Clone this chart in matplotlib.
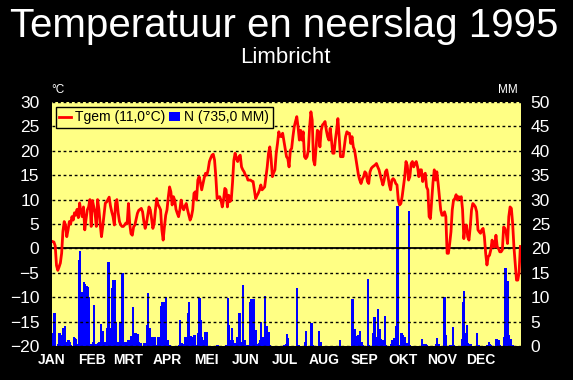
import numpy as np
import matplotlib
matplotlib.use("Agg")
import matplotlib.pyplot as plt
from matplotlib.lines import Line2D
from matplotlib.patches import Patch

plt.rcParams['font.family'] = ['Liberation Sans', 'DejaVu Sans']

# month labels and lengths (1995)
months = ["JAN", "FEB", "MRT", "APR", "MEI", "JUN", "JUL", "AUG", "SEP", "OKT", "NOV", "DEC"]
month_days = [31, 28, 31, 30, 31, 30, 31, 31, 30, 31, 30, 31]

# daily mean temperature (degC)
tgem_jan = [1.4, 1.3, 0.5, -3.5, -4.5, -3.8, -3.0, -1.0, 3.5, 5.5, 4.8, 2.4, 3.8, 5.5, 5.0, 6.5,
            5.8, 7.3, 6.8, 8.0, 6.3, 9.3, 7.5, 6.5, 8.5, 3.8, 6.0, 7.9, 8.5, 10.0, 4.5]
tgem_feb = [9.8, 8.5, 7.3, 4.5, 10.0, 8.0, 5.0, 2.4, 4.5, 7.0, 9.3, 9.5, 10.0, 10.5, 8.7, 7.5,
            6.5, 4.8, 9.3, 10.0, 7.3, 5.5, 4.8, 4.5, 4.5, 4.8, 5.2, 5.1]
tgem_mrt = [9.2, 5.0, 3.0, 2.7, 4.4, 4.8, 6.0, 7.2, 7.8, 8.0, 8.2, 7.5, 5.5, 4.1, 5.1, 6.8,
            8.5, 7.9, 6.1, 4.1, 5.1, 7.9, 10.2, 9.0, 8.5, 7.9, 3.8, 1.7, 4.4, 6.8, 7.9]
tgem_apr = [10.5, 12.6, 11.6, 8.9, 10.6, 9.9, 8.0, 7.2, 6.5, 7.9, 9.9, 8.5, 7.9, 8.7, 9.2,
            7.9, 6.8, 5.8, 6.5, 7.9, 11.3, 11.6, 9.9, 14.0, 14.7, 13.5, 12.0, 13.3, 14.5, 15.4]
tgem_mei = [15.0, 16.1, 17.8, 18.5, 19.1, 19.3, 18.1, 14.7, 10.2, 10.5, 10.6, 9.9, 8.5, 9.9,
            12.3, 12.0, 8.5, 10.9, 9.6, 9.9, 13.5, 18.0, 19.5, 18.4, 17.8, 18.8, 19.1, 16.7,
            16.1, 15.7, 15.0]
tgem_jun = [14.8, 14.0, 14.0, 14.0, 13.8, 13.7, 12.0, 10.2, 10.8, 11.3, 12.0, 13.0, 12.0, 12.3,
            12.6, 14.7, 16.7, 19.5, 20.8, 18.4, 14.7, 15.5, 16.1, 19.5, 21.5, 23.9, 23.0, 22.9,
            23.6, 22.0]
tgem_jul = [20.5, 18.8, 18.4, 16.7, 20.1, 20.5, 22.9, 24.9, 26.0, 27.0, 24.9, 22.2, 24.2, 22.2,
            23.9, 18.8, 18.4, 18.8, 20.1, 24.9, 28.0, 26.3, 18.1, 17.1, 20.8, 24.2, 23.9, 20.8,
            24.2, 25.3, 25.6]
tgem_aug = [26.0, 24.2, 22.9, 22.2, 24.6, 22.2, 19.5, 19.5, 22.2, 24.2, 26.6, 22.9, 18.8, 18.8,
            18.8, 20.8, 22.9, 23.9, 23.6, 23.6, 21.5, 22.9, 20.8, 20.1, 18.4, 16.7, 15.0, 14.0,
            13.3, 14.2, 14.7]
tgem_sep = [15.7, 15.4, 13.7, 13.3, 15.7, 16.4, 16.7, 16.9, 17.1, 17.4, 16.7, 16.1, 15.0, 14.0,
            13.0, 14.0, 15.7, 16.1, 14.7, 13.0, 12.0, 14.0, 14.3, 14.0, 13.3, 13.0, 9.9, 8.9,
            9.2, 10.6]
tgem_okt = [12.6, 14.7, 17.8, 17.0, 14.0, 14.7, 17.4, 17.8, 16.7, 17.4, 17.8, 16.7, 14.7, 16.1,
            16.1, 13.7, 15.0, 15.4, 12.6, 12.0, 6.5, 6.1, 9.9, 13.5, 16.1, 14.0, 15.7, 13.3,
            10.6, 7.9, 6.8]
tgem_nov = [6.8, 7.5, 6.5, -1.0, -1.0, 1.0, 3.4, 7.9, 9.9, 10.2, 11.0, 9.9, 10.6, 10.2, 10.6,
            8.0, 2.0, 4.4, 4.8, 2.4, 1.7, 4.4, 7.9, 9.2, 8.9, 8.5, 7.5, 3.8, 3.4, 3.1]
tgem_dec = [3.8, 4.1, 2.4, -1.0, -3.4, -1.7, -1.4, -0.3, 1.7, 0.3, 0.3, 2.7, 0.3, 0.0, -0.7,
            -0.7, -0.3, 4.4, 4.1, 3.1, 1.0, 6.5, 8.5, 8.2, 5.1, 0.3, -3.1, -6.5, -6.5, -5.0, 0.4]

# daily precipitation (mm)
n_jan = [2.6, 6.8, 0, 0, 0.5, 2.6, 2.3, 2.2, 3.6, 4.0, 0.9, 0.4, 1.2, 0.9, 0.3, 0, 1.9, 1.6,
         1.4, 0.5, 17.6, 19.5, 11.0, 11.0, 13.2, 12.8, 12.2, 12.0, 10.0, 0.5, 0.3]
n_feb = [0.8, 8.4, 0.5, 0.4, 0.6, 0.9, 4.5, 1.0, 3.1, 0.8, 0.8, 3.6, 17.3, 3.6, 3.6, 11.8,
         13.5, 13.5, 5.0, 0.8, 0.8, 5.0, 4.3, 15.0, 0.8, 0.9, 0.8, 1.2]
n_mrt = [1.2, 1.0, 2.0, 7.9, 1.6, 2.6, 2.3, 2.5, 0.9, 0.6, 0, 0, 0.7, 0.3, 4.3, 10.8, 3.6,
         1.8, 0.5, 1.8, 1.8, 0.2, 0, 1.9, 1.0, 8.1, 9.1, 9.1, 2.6, 10.0, 1.2]
n_apr = [0.3, 0.2, 0, 0, 0, 0, 0, 0, 0.2, 5.3, 0.6, 0.4, 0, 1.8, 1.5, 6.7, 9.1, 2.0, 1.8,
         1.4, 2.3, 0.2, 0, 2.6, 9.9, 5.3, 1.9, 1.2, 2.8, 0.3]
n_mei = [2.9, 0, 0, 0, 0, 0, 0, 0, 0.2, 0, 0, 0, 0, 0, 0, 0.3, 9.9, 4.3, 1.2, 3.6, 1.2, 0,
         0.6, 1.9, 1.6, 6.7, 0.9, 0.3, 12.5, 1.2, 0.2]
n_jun = [0, 0.3, 9.1, 9.6, 6.0, 9.6, 2.6, 3.3, 0.4, 0.6, 1.2, 5.0, 1.9, 1.2, 10.2, 4.1, 2.6,
         2.9, 0.3, 0, 0, 0, 0, 0, 0, 0, 0, 0, 0, 0.3]
n_jul = [0.4, 2.5, 1.7, 0, 0, 0, 0, 0, 0, 11.8, 0.3, 0, 0, 0, 0, 0.8, 3.1, 0, 0, 0, 4.8, 0.3,
         0, 0, 0, 0, 3.1, 0.9, 0, 0, 0]
n_aug = [0, 0, 0, 0, 0, 0, 0, 0, 0, 0, 0, 1.3, 0, 0, 0, 0, 0, 0, 0, 0, 0, 9.6, 0.3, 3.4, 2.0,
         2.3, 2.3, 3.1, 0.9, 0.2, 0]
n_sep = [0, 0, 13.7, 0.2, 0, 0, 2.6, 6.0, 1.8, 0, 7.6, 3.4, 1.4, 1.2, 1.2, 6.2, 0.2, 0, 0, 0,
         0.5, 1.3, 1.6, 1.3, 4.1, 28.7, 0.3, 0.2, 2.6, 2.3]
n_okt = [1.9, 1.8, 0.6, 0, 27.7, 0.3, 0, 0, 0, 0, 0, 0, 0, 0, 1.5, 0, 0.5, 0.5, 0.3, 0, 0, 0,
         0, 0, 0, 0.5, 1.6, 0.5, 0, 0, 0]
n_nov = [10.0, 10.1, 2.3, 0, 0, 0.2, 0.3, 3.8, 0.2, 0, 0, 0, 0, 0, 1.4, 9.1, 11.3, 2.6, 4.3,
         0.6, 0.5, 0.5, 0, 0, 0, 0, 2.7, 0.2, 0, 0]
n_dec = [0, 0, 0, 0, 0.2, 0.8, 0.4, 0.2, 0, 0, 0, 1.4, 0, 1.2, 0.2, 0, 0, 1.8, 15.9, 7.6,
         13.3, 2.3, 1.4, 0.2, 0.2, 0, 0, 0, 0, 0, 0]

legend_labels = ["Tgem (11,0°C)", "N (735,0 MM)"]

YELLOW = '#ffff84'

temp = np.concatenate([tgem_jan, tgem_feb, tgem_mrt, tgem_apr, tgem_mei, tgem_jun,
                       tgem_jul, tgem_aug, tgem_sep, tgem_okt, tgem_nov, tgem_dec])
rain = np.concatenate([n_jan, n_feb, n_mrt, n_apr, n_mei, n_jun,
                       n_jul, n_aug, n_sep, n_okt, n_nov, n_dec])
days = np.arange(len(temp))
starts = np.concatenate([[0], np.cumsum(month_days)[:-1]])

fig = plt.figure(figsize=(5.73, 3.80), dpi=100, facecolor='black')
ax = fig.add_axes([52/573, 1-346/380, 469/573, 244/380])
ax2 = ax.twinx()

# precipitation bars (back axis)
ax2.bar(days, rain, width=1.0, align='edge', color='#0000ff',
        edgecolor='#0000ff', linewidth=0.4, antialiased=False)
ax2.set_ylim(0, 50)
ax2.set_yticks(range(0, 51, 5))
ax2.patch.set_visible(True)
ax2.patch.set_facecolor(YELLOW)

# temperature line (front axis)
ax.set_zorder(ax2.get_zorder() + 1)
ax.patch.set_visible(False)
ax.plot(days + 0.5, temp, color='#ff0000', lw=2.0, zorder=3)
ax.set_ylim(-20, 30)
ax.set_xlim(0, 365)
ax.set_yticks(range(-20, 31, 5))
ax.grid(axis='y', color='black', linestyle=(0, (2, 2)), lw=1)
ax.axhline(0, color='black', lw=1.3, zorder=2)

ax.set_xticks(starts)
ax.set_xticklabels(months, fontweight='bold', fontsize=10, color='white')
ax.tick_params(axis='x', length=0, pad=5)
ax.tick_params(axis='y', length=0, labelsize=12.5, labelcolor='white', pad=9)
ax2.tick_params(axis='y', length=0, labelsize=12.5, labelcolor='white', pad=7)
for a in (ax, ax2):
    for s in a.spines.values():
        s.set_visible(False)

handles = [Line2D([], [], color='#ff0000', lw=2), Patch(facecolor='#0000ff', edgecolor='none')]
leg = ax.legend(handles, legend_labels, loc='upper left', bbox_to_anchor=(0.0085, 0.9795),
                ncol=2, frameon=True, fancybox=False, edgecolor='black', facecolor=YELLOW,
                framealpha=1, borderaxespad=0, fontsize=10, handlelength=0.8,
                handleheight=0.6, handletextpad=0.3, columnspacing=0.3, borderpad=0.25)
leg.get_frame().set_linewidth(1)

# titles and unit labels
fig.text(284.5/573, 1-37/380, "Temperatuur en neerslag 1995", ha='center', va='baseline',
         fontsize=29, color='white')
fig.text(285.5/573, 1-63/380, "Limbricht", ha='center', va='baseline', fontsize=16, color='white')
fig.text(51/573, 1-93/380, "°C", ha='left', va='baseline', fontsize=8.5, color='white')
fig.text(518/573, 1-93/380, "MM", ha='right', va='baseline', fontsize=8.5, color='white')

fig.savefig('out.png', dpi=100, facecolor='black')
